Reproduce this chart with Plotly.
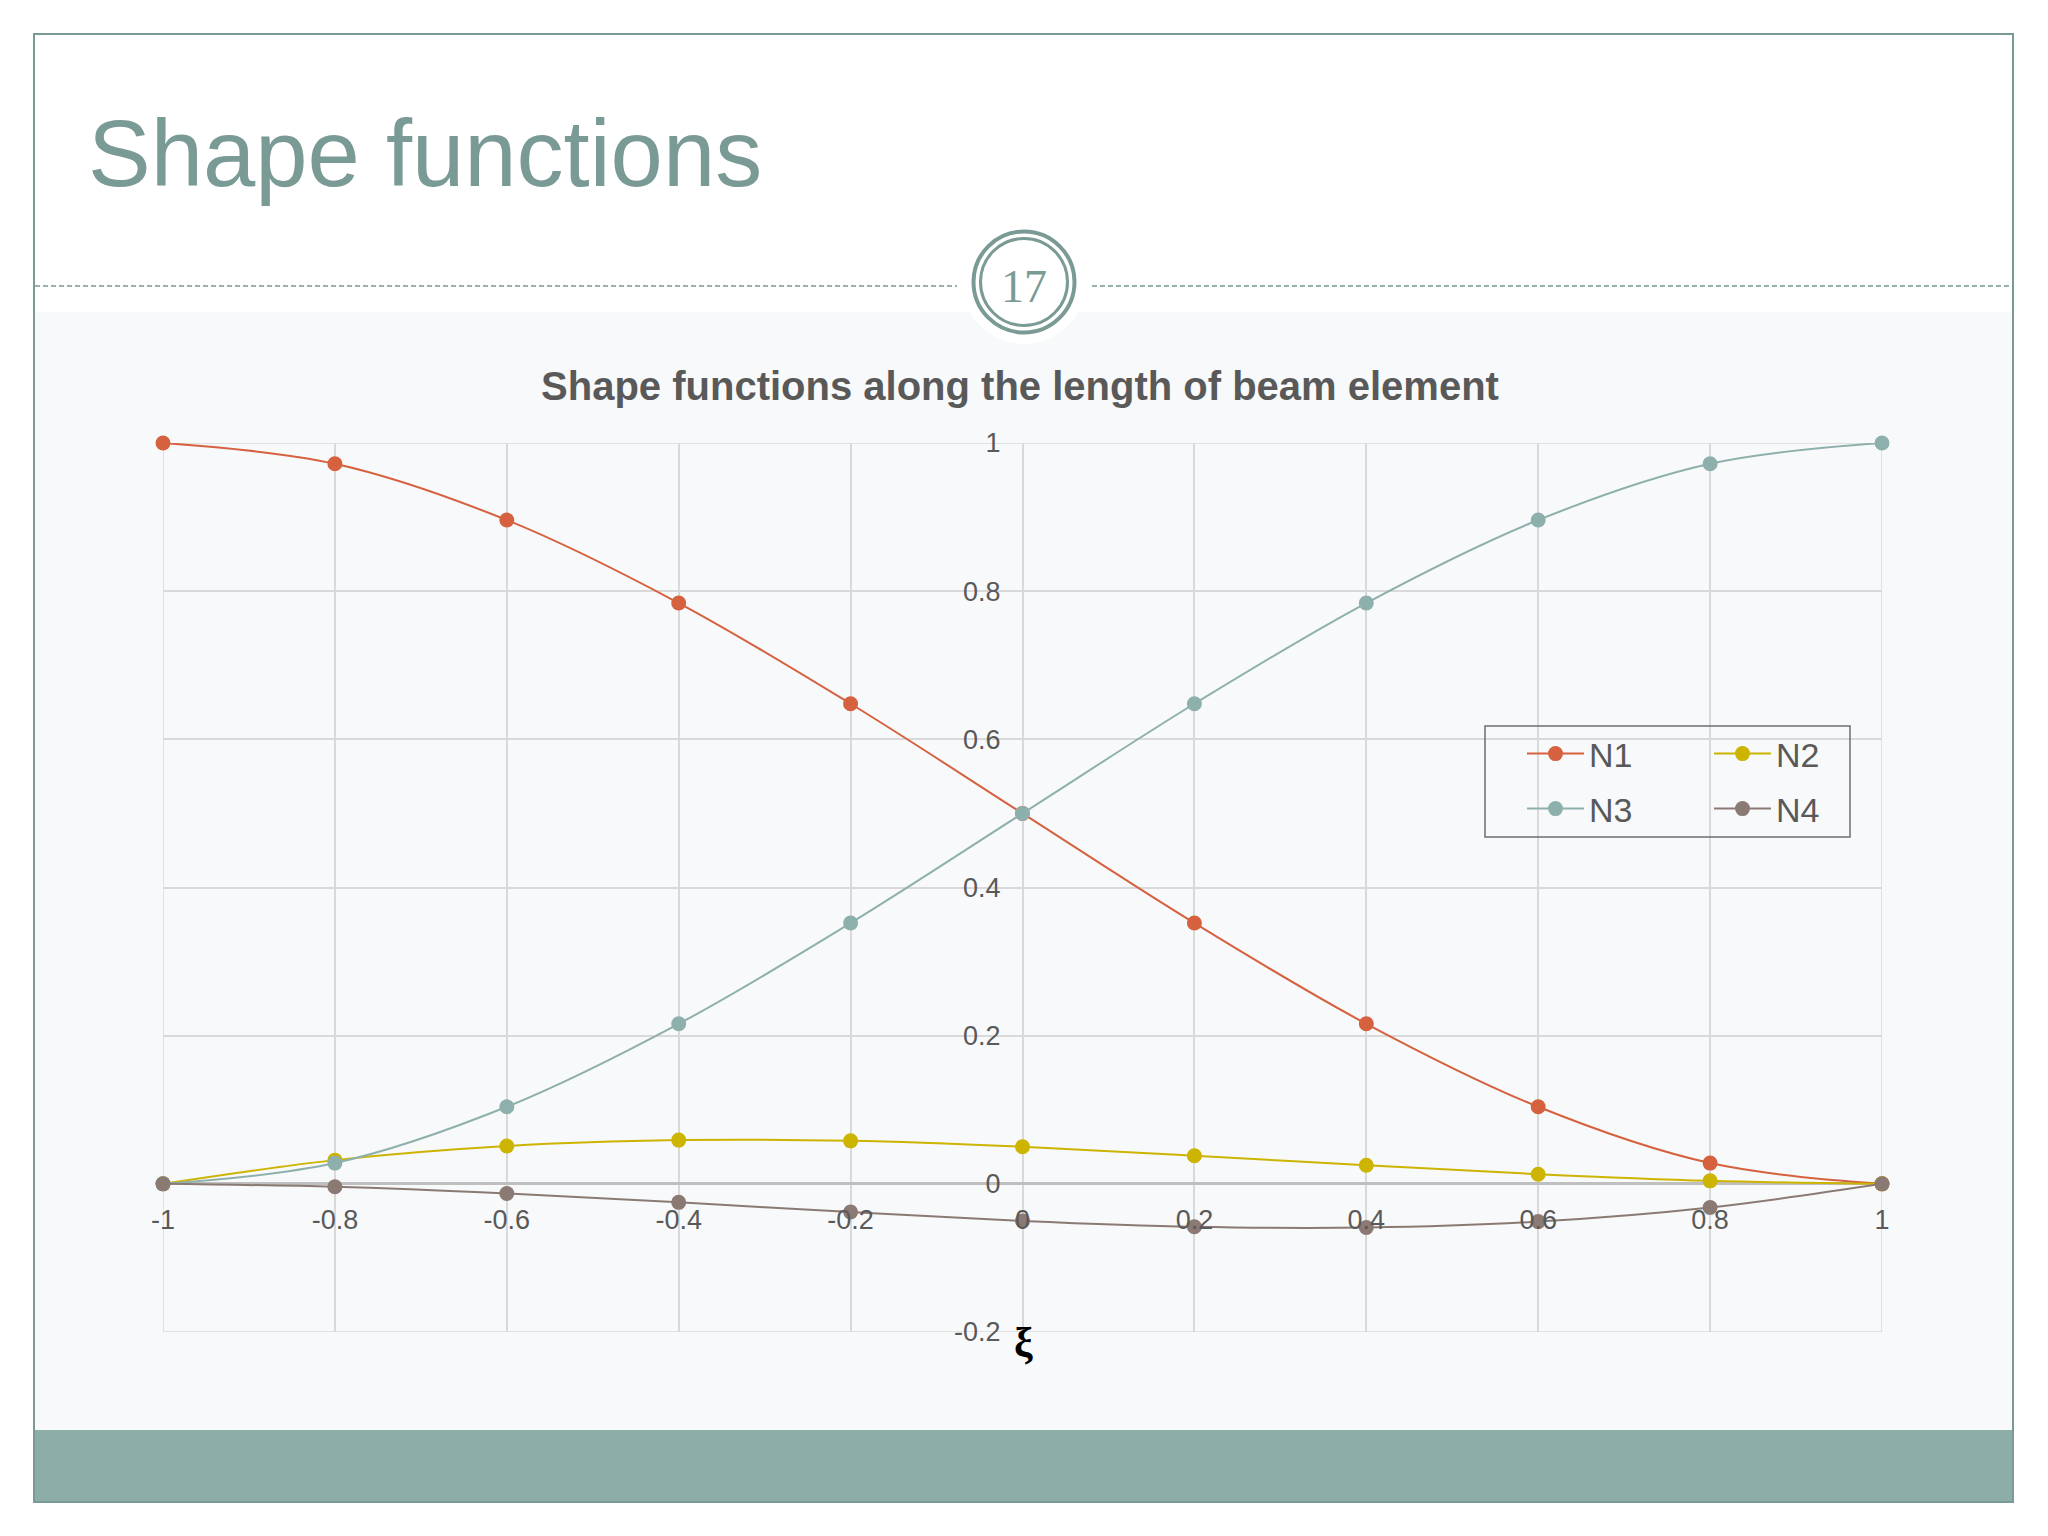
import plotly.graph_objects as go

# ---- data ----
xi = [-1, -0.8, -0.6, -0.4, -0.2, 0, 0.2, 0.4, 0.6, 0.8, 1]
n1 = [1.0, 0.972, 0.896, 0.784, 0.648, 0.5, 0.352, 0.216, 0.104, 0.028, 0.0]
n2 = [0.0, 0.032, 0.051, 0.059, 0.058, 0.05, 0.038, 0.025, 0.013, 0.004, 0.0]
n3 = [0.0, 0.028, 0.104, 0.216, 0.352, 0.5, 0.648, 0.784, 0.896, 0.972, 1.0]
n4 = [0.0, -0.004, -0.013, -0.025, -0.038, -0.05, -0.058, -0.059, -0.051, -0.032, 0.0]
series_names = ["N1", "N2", "N3", "N4"]
x_tick_vals = [-1, -0.8, -0.6, -0.4, -0.2, 0, 0.2, 0.4, 0.6, 0.8, 1]
x_tick_text = ["-1", "-0.8", "-0.6", "-0.4", "-0.2", "0", "0.2", "0.4", "0.6", "0.8", "1"]
y_tick_vals = [-0.2, 0, 0.2, 0.4, 0.6, 0.8, 1]
y_tick_text = ["-0.2", "0", "0.2", "0.4", "0.6", "0.8", "1"]
x_range = [-1, 1]
y_range = [-0.2, 1]

# ---- layout geometry (page pixels; the page body adds an 8px offset) ----
OFF = 8
W, H = 2048, 1536
PL, PR, PT, PB = 163, 1882, 443, 1332   # plot area edges in page pixels
L, T = PL - OFF, PT - OFF
R, B = W - (PR - OFF), H - (PB - OFF)
PW, PH = W - L - R, H - T - B

def px(x):
    return (x - OFF - L) / PW

def py(y):
    return (H - B - (y - OFF)) / PH

ACCENT = "#7A9A95"
TXT = "#595959"
GRID = "#D9D9D9"
colors = ["#D5613F", "#CCB400", "#8EB0AD", "#8B7A73"]
legends = ["legend", "legend", "legend2", "legend2"]

fig = go.Figure()
for name, ys, c, lg in zip(series_names, [n1, n2, n3, n4], colors, legends):
    fig.add_trace(go.Scatter(
        x=xi, y=ys, name=name, mode="lines+markers",
        line=dict(color=c, width=2, shape="spline"),
        marker=dict(color=c, size=15),
        cliponaxis=False, legend=lg,
    ))

shapes = [
    # light content region
    dict(type="rect", xref="paper", yref="paper", x0=px(35), x1=px(2012), y0=py(1430), y1=py(312),
         fillcolor="#F8F9FA", line=dict(width=0), layer="below"),
    # bottom band
    dict(type="rect", xref="paper", yref="paper", x0=px(35), x1=px(2012), y0=py(1501), y1=py(1430),
         fillcolor="#8DADA9", line=dict(width=0), layer="below"),
    # slide border
    dict(type="rect", xref="paper", yref="paper", x0=px(34), x1=px(2013), y0=py(1502), y1=py(34),
         line=dict(color=ACCENT, width=2), layer="below"),
    # dashed separator
    dict(type="line", xref="paper", yref="paper", x0=px(35), x1=px(957), y0=py(286), y1=py(286),
         line=dict(color=ACCENT, width=1.5, dash="5px,3px"), layer="below"),
    dict(type="line", xref="paper", yref="paper", x0=px(1092), x1=px(2012), y0=py(286), y1=py(286),
         line=dict(color=ACCENT, width=1.5, dash="5px,3px"), layer="below"),
    # badge
    dict(type="circle", xref="paper", yref="paper", x0=px(1024 - 62), x1=px(1024 + 62),
         y0=py(282 + 62), y1=py(282 - 62), fillcolor="white", line=dict(width=0), layer="below"),
    dict(type="circle", xref="paper", yref="paper", x0=px(1024 - 50.5), x1=px(1024 + 50.5),
         y0=py(282 + 50.5), y1=py(282 - 50.5), line=dict(color=ACCENT, width=4), layer="below"),
    dict(type="circle", xref="paper", yref="paper", x0=px(1024 - 43.5), x1=px(1024 + 43.5),
         y0=py(282 + 43.5), y1=py(282 - 43.5), line=dict(color=ACCENT, width=3), layer="below"),
    # plot-area frame (edge gridlines)
    dict(type="rect", xref="x", yref="y", x0=x_range[0], x1=x_range[1], y0=y_range[0], y1=y_range[1],
         line=dict(color=GRID, width=1.5), layer="below"),
    # legend box
    dict(type="rect", xref="paper", yref="paper", x0=px(1485), x1=px(1850), y0=py(837), y1=py(726),
         line=dict(color="#6E6E6E", width=1.5), layer="above"),
]

annotations = [
    dict(text="Shape functions", xref="paper", yref="paper", x=px(86), y=py(153),
         xanchor="left", yanchor="middle", showarrow=False,
         font=dict(family="Liberation Sans", size=94, color=ACCENT)),
    dict(text="17", xref="paper", yref="paper", x=px(1024), y=py(287),
         xanchor="center", yanchor="middle", showarrow=False,
         font=dict(family="Liberation Serif", size=46, color=ACCENT)),
    dict(text="<b>ξ</b>", xref="paper", yref="paper", x=px(1023), y=py(1343),
         xanchor="center", yanchor="middle", showarrow=False,
         font=dict(family="Liberation Serif", size=42, color="black")),
]

fig.update_layout(
    width=W, height=H,
    margin=dict(l=L, r=R, t=T, b=B),
    paper_bgcolor="white", plot_bgcolor="rgba(0,0,0,0)",
    font=dict(family="Liberation Sans", color=TXT),
    title=dict(text="<b>Shape functions along the length of beam element</b>",
               x=(1020 - OFF) / W, y=1 - (386 - OFF) / H, xanchor="center", yanchor="middle",
               font=dict(family="Liberation Sans", size=40, color=TXT)),
    xaxis=dict(range=x_range, tickvals=x_tick_vals, ticktext=x_tick_text,
               showgrid=True, gridcolor=GRID, gridwidth=1.5, zeroline=False,
               showline=False, ticks="", anchor="free", position=0.2 / 1.2,
               ticklabelstandoff=17, tickfont=dict(size=27, color=TXT)),
    yaxis=dict(range=y_range, tickvals=y_tick_vals, ticktext=y_tick_text,
               showgrid=True, gridcolor=GRID, gridwidth=1.5, zeroline=True,
               zerolinecolor="#BFBFBF", zerolinewidth=2.5,
               showline=False, ticks="", anchor="free", position=0.5,
               ticklabelstandoff=22, tickfont=dict(size=27, color=TXT)),
    legend=dict(orientation="h", x=px(1522), y=py(754), xanchor="left", yanchor="middle",
                bgcolor="rgba(0,0,0,0)", borderwidth=0, itemwidth=57,
                entrywidth=115, entrywidthmode="pixels",
                font=dict(size=34, color=TXT)),
    legend2=dict(orientation="h", x=px(1522), y=py(809), xanchor="left", yanchor="middle",
                 bgcolor="rgba(0,0,0,0)", borderwidth=0, itemwidth=57,
                 entrywidth=115, entrywidthmode="pixels",
                 font=dict(size=34, color=TXT)),
    shapes=shapes,
    annotations=annotations,
)

fig.write_html("out.html")
